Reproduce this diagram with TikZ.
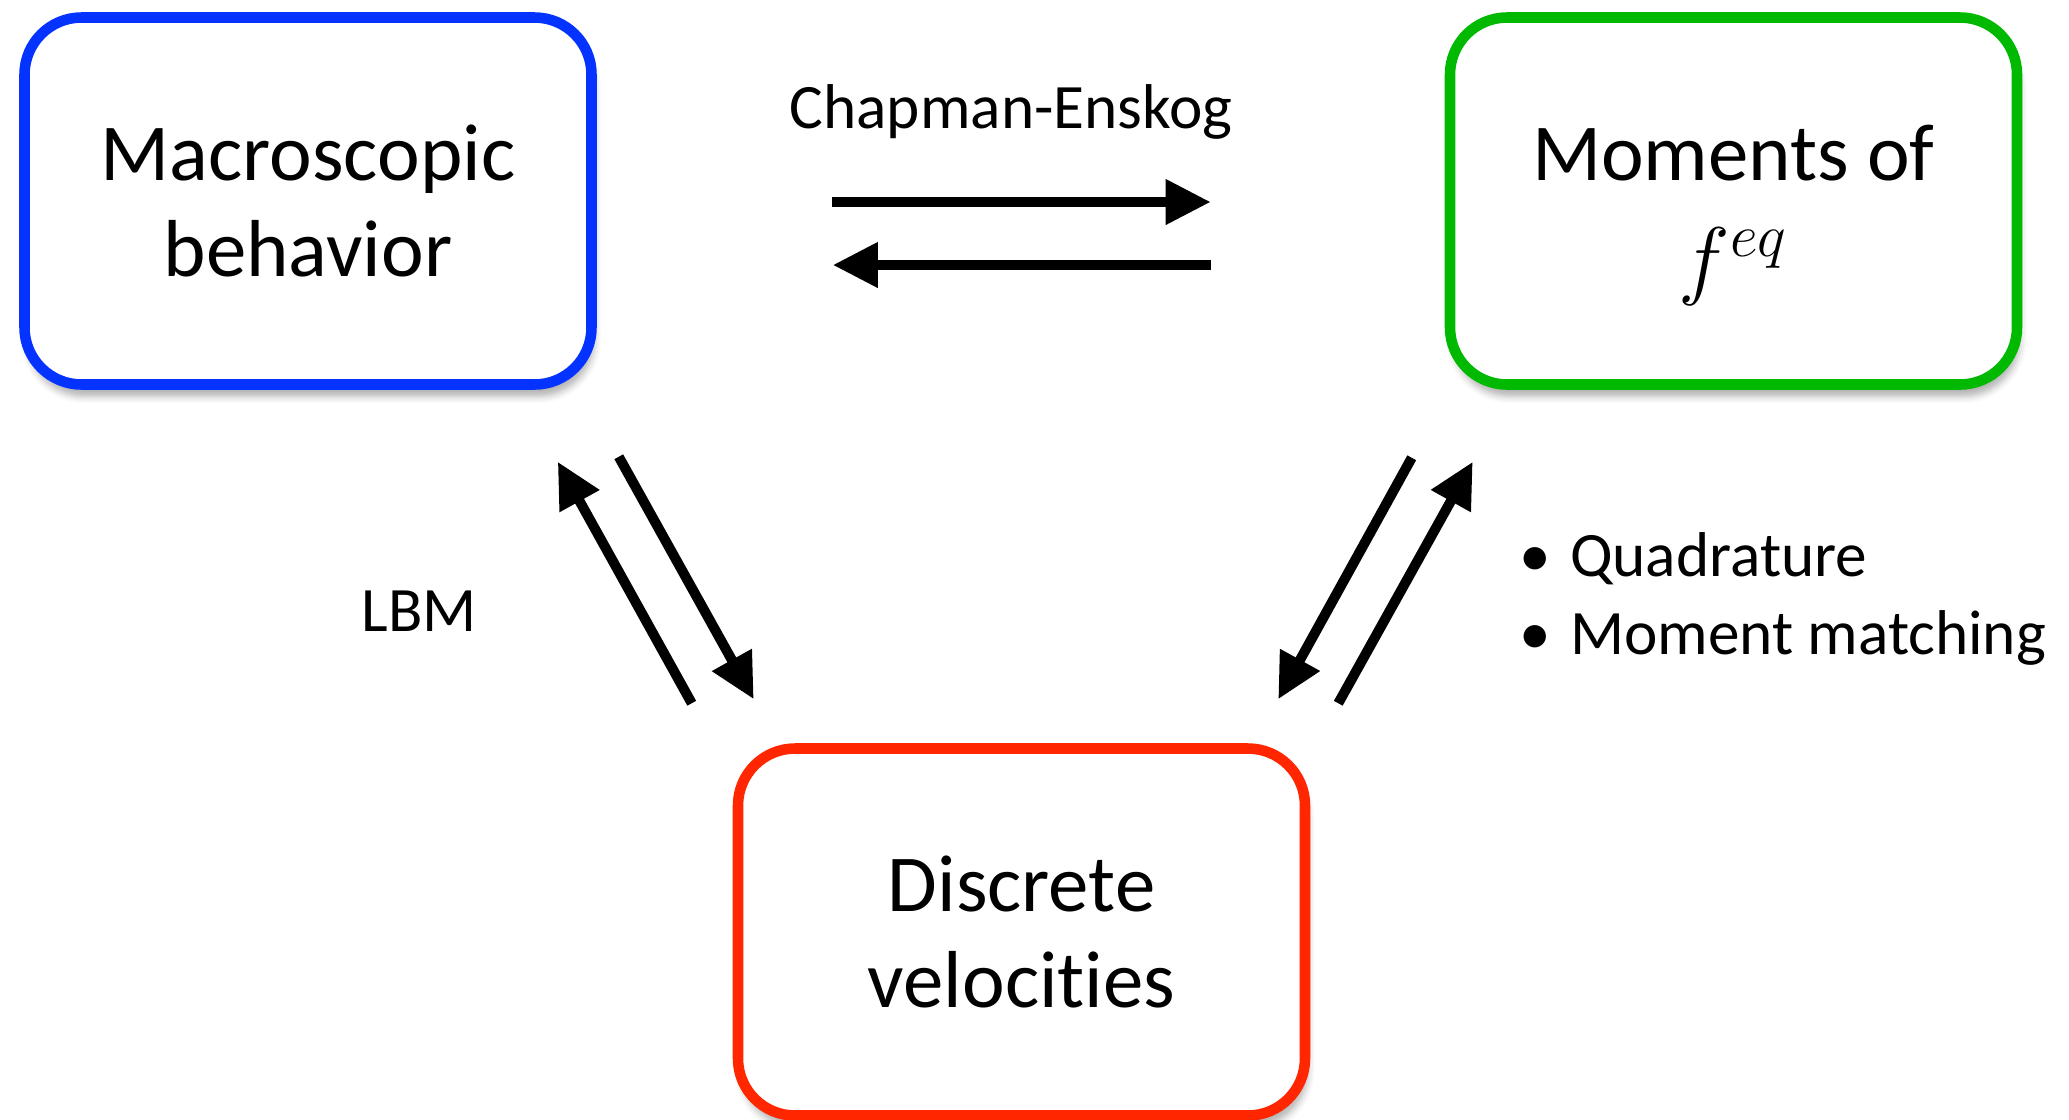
\documentclass[tikz,border=0pt]{standalone}
\usepackage{fontspec}
\setmainfont{Carlito}[Ligatures=NoCommon]
\usetikzlibrary{arrows.meta,shadows.blur}
\definecolor{macblue}{RGB}{4,51,255}
\definecolor{momgreen}{RGB}{0,185,0}
\definecolor{discred}{RGB}{255,38,0}
\tikzstyle{stage} = [rectangle, rounded corners=0.57cm, minimum width=5.67cm, minimum height=3.67cm,
    line width=3pt, fill=white, align=center, font=\fontsize{23}{27.3}\selectfont,
    blur shadow={shadow xshift=0.03cm, shadow yshift=-0.12cm, shadow opacity=30}]
\tikzstyle{arrow} = [line width=2.85pt, -{Triangle[length=4.5mm,width=4.3mm]}]
\tikzstyle{remark} = [inner sep=0pt, font=\fontsize{18}{22}\selectfont]
\begin{document}
\begin{tikzpicture}
                        \useasboundingbox (0,0) rectangle (20.69,-11.19);
                        \node[stage, draw=macblue] (mac) at (3.08,-2.01) {Macroscopic\\behavior};
                        \node[stage, draw=momgreen] (mom) at (17.335,-2.01)
                            {\rule{0pt}{\dimexpr\fontcharht\font`f+0.28cm}Moments of\\[0.12cm]$f^{eq}$};
                        \node[stage, draw=discred] (disc) at (10.215,-9.32) {Discrete\\velocities};
                        \node[remark, anchor=base] (ce) at (10.11,-1.28) {Chapman-Enskog};
                        \node[remark, anchor=base] (lbm) at (4.19,-6.31) {LBM};
                        \node[remark, anchor=base west, align=left] (methods) at (15.19,-6.54)
                            {\textbullet\hspace{0.3em}Quadrature\\\textbullet\hspace{0.3em}Moment matching};
                        \draw[arrow] ([xshift=2.35cm,yshift=-0.01cm]mac.east) -- ([xshift=-2.34cm,yshift=-0.01cm]mom.west);
                        \draw[arrow] ([xshift=-2.34cm,yshift=-0.64cm]mom.west) -- ([xshift=2.36cm,yshift=-0.64cm]mac.east);
                        \draw[arrow] ([xshift=-0.41cm,yshift=0.40cm]disc.north west) -- ([xshift=-0.39cm,yshift=-0.72cm]mac.south east);
                        \draw[arrow] ([xshift=0.22cm,yshift=-0.67cm]mac.south east) -- ([xshift=0.21cm,yshift=0.44cm]disc.north west);
                        \draw[arrow] ([xshift=-0.33cm,yshift=-0.68cm]mom.south west) -- ([xshift=-0.32cm,yshift=0.44cm]disc.north east);
                        \draw[arrow] ([xshift=0.28cm,yshift=0.40cm]disc.north east) -- ([xshift=0.28cm,yshift=-0.72cm]mom.south west);
                    \end{tikzpicture}
\end{document}
